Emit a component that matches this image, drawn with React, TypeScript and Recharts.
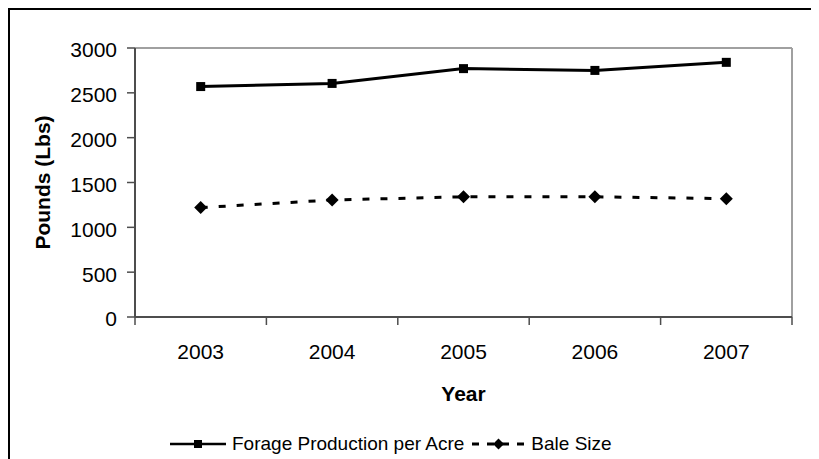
import { ComposedChart, Line, XAxis, YAxis, Legend, ReferenceLine } from "recharts";

const years = ["2003", "2004", "2005", "2006", "2007"];
const forage = [2570, 2605, 2770, 2750, 2840];
const baleSize = [1220, 1305, 1340, 1340, 1320];
const yTicks = [0, 500, 1000, 1500, 2000, 2500, 3000];

const data = years.map((year, i) => ({ year, forage: forage[i], bale: baleSize[i] }));

const FONT = '"Liberation Sans", Arial, sans-serif';
const AXIS = "#4d4d4d";
const FRAME = "#a0a0a0";
const W = 806;
const H = 449;
const margin = { top: 38, right: 24, left: 0, bottom: 0 };
const Y_W = 125;
const BAND = (W - margin.left - margin.right - Y_W) / years.length;

// category labels centred, tick marks on the band edges like Excel
function XTick({ x, y, payload, index }: any) {
  const axisY = y - 27;
  const left = x - BAND / 2;
  return (
    <g>
      <line x1={left} x2={left} y1={axisY} y2={axisY + 8} stroke={AXIS} strokeWidth={1.5} />
      {index === years.length - 1 && (
        <line x1={x + BAND / 2} x2={x + BAND / 2} y1={axisY} y2={axisY + 8} stroke={AXIS} strokeWidth={1.5} />
      )}
      <text x={x} y={y} dy="0.71em" textAnchor="middle" fontSize={21} fill="#000" fontFamily={FONT}>
        {payload.value}
      </text>
    </g>
  );
}

function XTitle({ viewBox }: any) {
  return (
    <text x={viewBox.x + viewBox.width / 2} y={viewBox.y + 76} dy="0.36em" textAnchor="middle"
      fontSize={21} fontWeight="bold" fill="#000" fontFamily={FONT}>
      Year
    </text>
  );
}

function YTitle({ viewBox }: any) {
  const cx = viewBox.x + 32;
  const cy = viewBox.y + viewBox.height / 2;
  return (
    <text x={cx} y={cy} dy="0.36em" textAnchor="middle" transform={`rotate(-90 ${cx} ${cy})`}
      fontSize={21} fontWeight="bold" fill="#000" fontFamily={FONT}>
      Pounds (Lbs)
    </text>
  );
}

const squareDot = (p: any) => (
  <rect key={`sq-${p.index}`} x={p.cx - 4.5} y={p.cy - 4.5} width={9} height={9} fill="#000" />
);

const diamondDot = (p: any) => (
  <polygon key={`dm-${p.index}`}
    points={`${p.cx},${p.cy - 6.5} ${p.cx + 6.5},${p.cy} ${p.cx},${p.cy + 6.5} ${p.cx - 6.5},${p.cy}`}
    fill="#000" />
);

function LegendBox() {
  return (
    <div style={{ display: "flex", alignItems: "center", height: 30, paddingLeft: 160, fontSize: 19, fontFamily: FONT, color: "#000" }}>
      <svg width={56} height={12}>
        <line x1={0} x2={56} y1={6} y2={6} stroke="#000" strokeWidth={2.5} />
        <rect x={24} y={2} width={8} height={8} fill="#000" />
      </svg>
      <span style={{ marginLeft: 6, whiteSpace: "nowrap" }}>Forage Production per Acre</span>
      <svg width={55} height={14} style={{ marginLeft: 7 }}>
        <line x1={0} x2={55} y1={7} y2={7} stroke="#000" strokeWidth={3} strokeDasharray="7 8" strokeDashoffset={-1} />
        <polygon points="27.5,1.5 33,7 27.5,12.5 22,7" fill="#000" />
      </svg>
      <span style={{ marginLeft: 5, whiteSpace: "nowrap" }}>Bale Size</span>
    </div>
  );
}

export default function App() {
  return (
    <div style={{ position: "relative", width: W, height: 470, border: "2px solid #000", background: "#fff", fontFamily: FONT }}>
      <ComposedChart width={W} height={H} data={data} margin={margin}>
        <ReferenceLine y={3000} stroke={FRAME} strokeWidth={2} />
        <ReferenceLine x="2007" position="end" stroke={FRAME} strokeWidth={2} />
        <XAxis dataKey="year" scale="band" interval={0} height={112} tickLine={false} tickSize={0} tickMargin={27}
          axisLine={{ stroke: AXIS, strokeWidth: 2 }} tick={<XTick />} label={<XTitle />} />
        <YAxis width={Y_W} domain={[0, 3000]} ticks={yTicks} interval={0} tickSize={8} tickMargin={10}
          axisLine={{ stroke: AXIS, strokeWidth: 2 }} tickLine={{ stroke: AXIS, strokeWidth: 1.5 }}
          tick={{ fontSize: 21, fill: "#000", fontFamily: FONT, dy: 2 }} label={<YTitle />} />
        <Legend verticalAlign="bottom" content={() => <LegendBox />} wrapperStyle={{ height: 30 }} />
        <Line dataKey="forage" name="Forage Production per Acre" stroke="#000" strokeWidth={3}
          dot={squareDot} activeDot={false} isAnimationActive={false} />
        <Line dataKey="bale" name="Bale Size" stroke="#000" strokeWidth={3} strokeDasharray="7 11"
          dot={diamondDot} activeDot={false} isAnimationActive={false} />
      </ComposedChart>
    </div>
  );
}
